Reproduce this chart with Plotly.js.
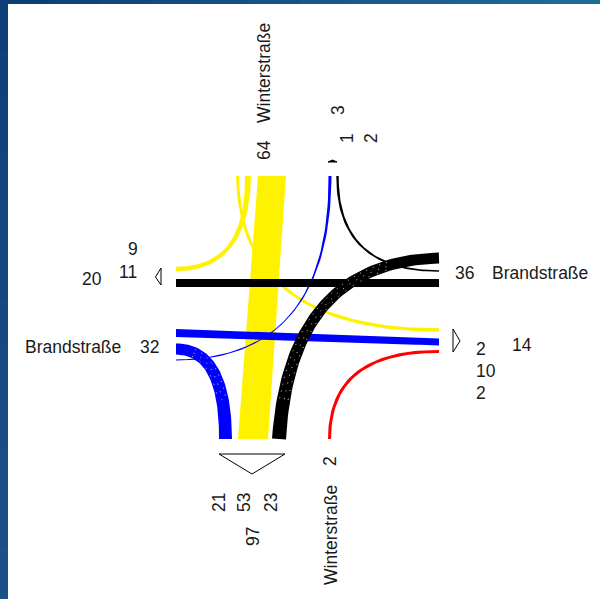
<!DOCTYPE html>
<html><head><meta charset="utf-8">
<script src="https://cdn.plot.ly/plotly-3.0.1.min.js"></script>
<style>html,body{margin:0;padding:0;background:#fff}#c{width:600px;height:599px}</style>
</head><body><div id="c"></div>
<script>
// ---- data ----
const streetNS = "Winterstraße";
const streetEW = "Brandstraße";
const flowNames  = ["N-S","N-E","N-W (yellow)","N-W (blue)","N-E (black)","E-W","W-E","W-S","E-S","S-E"];
const flowCounts = [53,2,9,1,2,11,10,21,2,23];
const flowColors = ["#fff200","#fff200","#fff200","#0000ff","#000000","#000000","#0000ff","#0000ff","#ff0000","#000000"];

// ---- drawing geometry (layout only) ----
const W=600,H=599,font="Liberation Sans, Arial, sans-serif",fs=17.5;
const geom = {
 "N-S":{p:[[272,176,28],[262.5,307,29],[253,439,30]],cap:"x"},
 "N-E":{p:[[237.5,176,3],[240,330,3],[439,330,3.5]]},
 "N-W (yellow)":{p:[[248,176,6],[248,269,4],[176,269,4.5]]},
 "N-W (blue)":{p:[[330,176,3],[330,359,1],[176,360,1.2]]},
 "N-E (black)":{p:[[337.5,176,2.5],[337,271,2],[439,271,1.5]]},
 "E-W":{p:[[176,283,8],[300,283,8],[439,283,8]],cap:"y"},
 "W-E":{p:[[176,333,8],[300,337,7],[439,342,7]],cap:"y"},
 "W-S":{p:[[176,349,11],[225.5,349,12],[225.5,439,13]],dots:[0.2,0.75]},
 "E-S":{p:[[439,351.5,3],[329.5,351,3],[329.5,439,3]]},
 "S-E":{p:[[279,439,14],[290,262,11],[439,258,11]],dots:[0.12,0.82]}
};
function pt(g,t){
  const [a,b,c]=g.p,u=1-t;
  const x=u*u*a[0]+2*u*t*b[0]+t*t*c[0], y=u*u*a[1]+2*u*t*b[1]+t*t*c[1];
  let dx=2*u*(b[0]-a[0])+2*t*(c[0]-b[0]), dy=2*u*(b[1]-a[1])+2*t*(c[1]-b[1]);
  const l=Math.hypot(dx,dy)||1;dx/=l;dy/=l;
  const w=(t<.5? a[2]+(b[2]-a[2])*t*2 : b[2]+(c[2]-b[2])*(t-.5)*2)/2;
  let nx=-dy,ny=dx;
  if(g.cap==="x"){nx=Math.sign(nx)||1;ny=0;} else if(g.cap==="y"){nx=0;ny=Math.sign(ny)||1;}
  return {x,y,nx,ny,w};
}
function ribbon(g){
  const xs=[],ys=[],xr=[],yr=[],n=60;
  for(let i=0;i<=n;i++){
    const q=pt(g,i/n);
    xs.push(q.x+q.nx*q.w);ys.push(q.y+q.ny*q.w);xr.unshift(q.x-q.nx*q.w);yr.unshift(q.y-q.ny*q.w);
  }
  return {x:xs.concat(xr),y:ys.concat(yr)};
}
const traces=[];
flowNames.forEach((nm,i)=>{
  const r=ribbon(geom[nm]);
  traces.push({x:r.x,y:r.y,mode:"lines",fill:"toself",fillcolor:flowColors[i],
    line:{color:flowColors[i],width:0},hoverinfo:"skip",name:nm+" "+flowCounts[i],showlegend:false,type:"scatter"});
});
// fine speckle where the bundled strands leave gaps
flowNames.forEach((nm,i)=>{
  const g=geom[nm]; if(!g.dots) return;
  [-0.3,0.05,0.35].forEach((k,j)=>{
    const xs=[],ys=[];
    for(let m=0;m<=50;m++){
      const t=g.dots[0]+(g.dots[1]-g.dots[0])*m/50,q=pt(g,t);
      xs.push(q.x+q.nx*q.w*2*k);ys.push(q.y+q.ny*q.w*2*k);
    }
    traces.push({x:xs,y:ys,mode:"lines",line:{color:"rgba(235,235,235,0.9)",width:1,dash:"1px,"+(6+j)+"px"},
      hoverinfo:"skip",showlegend:false,type:"scatter"});
  });
});
const tri=(xs,ys,fill)=>({x:xs,y:ys,mode:"lines",fill:"toself",fillcolor:fill,
  line:{color:"#000",width:1},hoverinfo:"skip",showlegend:false,type:"scatter"});
traces.push(tri([219,285,252,219],[454,454,474,454],"#fff"));
traces.push(tri([161,161,155.5,161],[268,285,277,268],"#fff"));
traces.push(tri([453,453,460,453],[329,352,341,329],"#fff"));
traces.push(tri([328,337,332.5,328],[162,162,160,162],"#000"));

const hLabels=[["9",133,249],["11",128,272],["20",92,279],[streetEW,73,347],["32",149,347],
  ["36",464,273],[streetEW,540,273],["2",481,349],["14",522,345],["10",486,371],["2",481,393]];
const vLabels=[[streetNS,264,73],["64",264,150],["3",338,110],["1",347,138],["2",371,138],
  ["21",219,503],["53",244,503],["23",271,503],["97",253,537],["2",330,461],[streetNS,331,535]];
const ann=l=>({text:l[0],x:l[1],y:l[2],xref:"x",yref:"y",showarrow:false,xanchor:"center",yanchor:"middle",
  font:{family:font,size:fs,color:"#1a1a1a"}});
const annotations=hLabels.map(ann).concat(vLabels.map(l=>Object.assign(ann(l),{textangle:-90})));

// window frame with its slight gradient
const mix=(a,b,t)=>"rgb("+a.map((v,i)=>Math.round(v+(b[i]-v)*t)).join(",")+")";
const shapes=[],steps=12,c0=[15,63,119],cR=[31,107,150],cB=[27,81,136];
for(let i=0;i<steps;i++){
  shapes.push({type:"rect",xref:"x",yref:"y",x0:W*i/steps,x1:W*(i+1)/steps+1,y0:0,y1:4,fillcolor:mix(c0,cR,i/(steps-1)),line:{width:0},layer:"below"});
  shapes.push({type:"rect",xref:"x",yref:"y",x0:0,x1:8,y0:H*i/steps,y1:H*(i+1)/steps+1,fillcolor:mix(c0,cB,i/(steps-1)),line:{width:0},layer:"below"});
}
const layout={width:W,height:H,margin:{l:0,r:0,t:0,b:0},paper_bgcolor:"#fff",plot_bgcolor:"#fff",showlegend:false,
  xaxis:{range:[0,W],visible:false,fixedrange:true},
  yaxis:{range:[H,0],visible:false,fixedrange:true},
  shapes,annotations};
Plotly.newPlot("c",traces,layout,{displayModeBar:false,staticPlot:true});
</script></body></html>
